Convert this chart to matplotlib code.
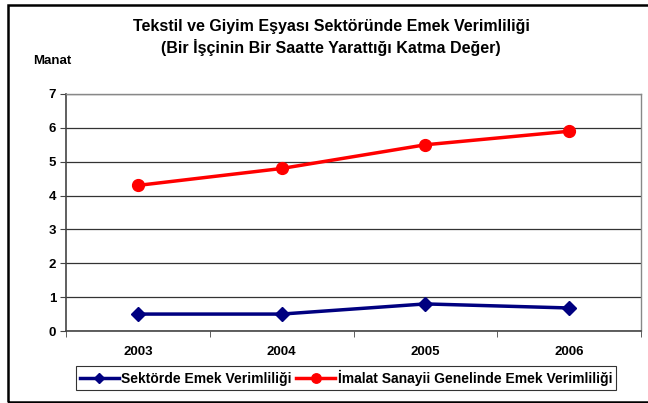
import matplotlib.pyplot as plt
from matplotlib.patches import Rectangle

years = ["2003", "2004", "2005", "2006"]
sektor = [0.5, 0.5, 0.8, 0.68]
imalat = [4.3, 4.8, 5.5, 5.9]

plt.rcParams["font.family"] = ["Liberation Sans", "DejaVu Sans"]
plt.rcParams["font.weight"] = "bold"

W, H = 648, 403
fig = plt.figure(figsize=(W / 100, H / 100), dpi=100)

# outer frame (right edge lies outside the picture)
fig.patches.append(Rectangle((8 / W, 1.5 / H), 2, (H - 6) / H, transform=fig.transFigure,
                             fill=False, edgecolor="black", linewidth=1.8))

ax = fig.add_axes([66 / W, (H - 331) / H, 575 / W, (331 - 94) / H])
x = list(range(len(years)))
ax.plot(x, sektor, color="#000080", linewidth=2.5, marker="D", markersize=7,
        label="Sektörde Emek Verimliliği")
ax.plot(x, imalat, color="#ff0000", linewidth=2.5, marker="o", markersize=8.5,
        label="İmalat Sanayii Genelinde Emek Verimliliği")

ax.set_xlim(-0.5, 3.5)
ax.set_ylim(0, 7)
ax.set_yticks(range(8))
ax.set_xticks(x)
ax.set_xticklabels(years)
ax.set_xticks([-0.5, 0.5, 1.5, 2.5, 3.5], minor=True)
ax.tick_params(axis="x", which="major", length=0, pad=11, labelsize=9.5)
ax.tick_params(axis="x", which="minor", length=4, color="#444444", direction="out")
ax.tick_params(axis="y", length=4, color="#444444", labelsize=9.5, pad=3)
for lbl in ax.get_xticklabels() + ax.get_yticklabels():
    lbl.set_fontweight("bold")
ax.yaxis.grid(True, color="#333333", linewidth=0.9)
ax.set_axisbelow(True)
for side in ["top", "right"]:
    ax.spines[side].set_color("#888888")
    ax.spines[side].set_linewidth(1)
for side in ["left", "bottom"]:
    ax.spines[side].set_color("#444444")
    ax.spines[side].set_linewidth(1.2)

fig.text(331 / W, 1 - 27 / H, "Tekstil ve Giyim Eşyası Sektöründe Emek Verimliliği",
         ha="center", va="center", fontsize=11.5, fontweight="bold")
fig.text(331 / W, 1 - 47 / H, "(Bir İşçinin Bir Saatte Yarattığı Katma Değer)",
         ha="center", va="center", fontsize=11.5, fontweight="bold")
fig.text(33 / W, 1 - 61 / H, "Manat", ha="left", va="center", fontsize=9.5, fontweight="bold")

leg = fig.legend(loc="center", bbox_to_anchor=(346 / W, 1 - 378 / H), ncol=2,
                 fontsize=10, frameon=True, fancybox=False, borderpad=0.25,
                 handlelength=2.8, handletextpad=0.2, columnspacing=0.3,
                 borderaxespad=0, markerscale=0.8)
leg.get_frame().set_edgecolor("black")
leg.get_frame().set_linewidth(0.8)
for t in leg.get_texts():
    t.set_fontweight("bold")

fig.savefig("out.png", dpi=100)
